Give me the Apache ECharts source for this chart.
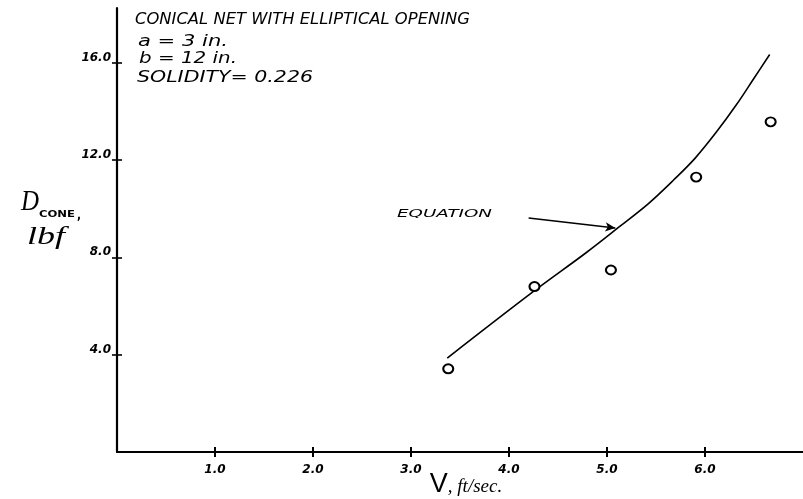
<!DOCTYPE html>
<html>
<head>
<meta charset="utf-8">
<title>Conical net drag</title>
<script src="https://cdn.jsdelivr.net/npm/echarts@6/dist/echarts.min.js"></script>
<style>
  html, body { margin: 0; padding: 0; background: #fff; }
  #chart { width: 803px; height: 499px; }
</style>
</head>
<body>
<div id="chart"></div>
<script>
// Measured drag on the cone (lbf) against towing speed (ft/sec)
const velocity = [3.38, 4.26, 5.04, 5.91, 6.67];
const dragMeasured = [3.42, 6.80, 7.48, 11.30, 13.57];

// Curve given by the drag equation, sampled along its length
const curveVelocity = [3.37, 4.25, 4.79, 5.13, 5.42, 5.68, 5.90, 6.12, 6.32, 6.49, 6.66];
const curveDrag = [3.86, 6.60, 8.20, 9.27, 10.20, 11.18, 12.08, 13.17, 14.27, 15.30, 16.34];

// Tick positions on each axis
const xTicks = [1, 2, 3, 4, 5, 6];
const yTicks = [4, 8, 12, 16];

// Arrow pointing at the equation curve: tail and head in data units
const arrowTail = [4.20, 9.62];
const arrowHead = [5.085, 9.21];

const titleLines = [
  'CONICAL NET WITH ELLIPTICAL OPENING',
  'a = 3 in.',
  'b = 12 in.',
  'SOLIDITY= 0.226'
];

const chart = echarts.init(document.getElementById('chart'), null, { renderer: 'canvas' });

// Width of a string in a given font, used to stretch lettering to its drawn width
const measureCtx = document.createElement('canvas').getContext('2d');
function textWidth(text, font) {
  measureCtx.font = font;
  return measureCtx.measureText(text).width;
}
function stretched(text, font, x, y, width, extra) {
  const w = textWidth(text, font);
  return Object.assign({
    type: 'text',
    x: x,
    y: y,
    scaleX: width / w,
    silent: true,
    style: { text: text, font: font, fill: '#000', verticalAlign: 'middle', align: 'left' }
  }, extra || {});
}

const handFont = 'italic 15px "DejaVu Sans"';
const labelFont = '"DejaVu Sans"';

const option = {
  backgroundColor: '#fff',
  animation: false,
  grid: { left: 117, right: 0, top: 8, bottom: 47, containLabel: false, outerBoundsMode: 'none' },
  xAxis: [
    {
      type: 'value',
      min: 0,
      max: 7,
      splitLine: { show: false },
      axisLine: { lineStyle: { color: '#000', width: 2.2 } },
      axisTick: { show: true, length: 5, customValues: xTicks, lineStyle: { color: '#000', width: 2 } },
      axisLabel: {
        customValues: xTicks,
        formatter: v => v.toFixed(1),
        margin: 12,
        color: '#000',
        fontFamily: labelFont,
        fontStyle: 'italic',
        fontWeight: 'bold',
        fontSize: 12
      },
      name: '{v|V}{r|, ft/sec.}',
      nameLocation: 'middle',
      nameMoveOverlap: false,
      nameGap: 19,
      nameTextStyle: {
        padding: [0, 0, 0, 12],
        rich: {
          v: { fontFamily: '"Liberation Sans"', fontSize: 27, color: '#000' },
          r: { fontFamily: '"Liberation Serif"', fontStyle: 'italic', fontSize: 19, color: '#000', padding: [4, 0, 0, 0] }
        }
      }
    },
    {
      type: 'value',
      min: 0,
      max: 7,
      position: 'bottom',
      splitLine: { show: false },
      axisLine: { show: false },
      axisTick: { show: true, inside: true, length: 5, customValues: xTicks, lineStyle: { color: '#000', width: 2 } },
      axisLabel: { show: false }
    }
  ],
  yAxis: [
    {
      type: 'value',
      min: 0,
      max: 18.25,
      splitLine: { show: false },
      axisLine: { show: true, lineStyle: { color: '#000', width: 2.2 } },
      axisTick: { show: true, length: 5, customValues: yTicks, lineStyle: { color: '#000', width: 1.6 } },
      axisLabel: {
        customValues: yTicks,
        formatter: v => v.toFixed(1),
        margin: 6,
        color: '#000',
        fontFamily: labelFont,
        fontStyle: 'italic',
        fontWeight: 'bold',
        fontSize: 12,
        verticalAlign: 'bottom',
        lineHeight: 10
      }
    },
    {
      type: 'value',
      min: 0,
      max: 18.25,
      position: 'left',
      splitLine: { show: false },
      axisLine: { show: false },
      axisTick: { show: true, inside: true, length: 5, customValues: yTicks, lineStyle: { color: '#000', width: 1.6 } },
      axisLabel: { show: false }
    }
  ],
  series: [
    {
      name: 'Equation',
      type: 'line',
      data: curveVelocity.map((v, i) => [v, curveDrag[i]]),
      smooth: 0.35,
      showSymbol: false,
      lineStyle: { color: '#000', width: 1.6 },
      z: 2,
      markLine: {
        silent: true,
        animation: false,
        symbol: ['none', 'arrow'],
        symbolSize: [7, 10],
        label: { show: false },
        lineStyle: { color: '#000', width: 1.6, type: 'solid' },
        data: [[{ coord: arrowTail }, { coord: arrowHead }]]
      }
    },
    {
      name: 'Measured',
      type: 'scatter',
      data: velocity.map((v, i) => [v, dragMeasured[i]]),
      symbol: 'circle',
      symbolSize: [10, 9],
      itemStyle: { color: '#fff', borderColor: '#000', borderWidth: 2, opacity: 1 },
      z: 3
    }
  ],
  graphic: [
    stretched(titleLines[0], handFont, 135, 20, 335),
    stretched(titleLines[1], handFont, 138, 42, 90),
    stretched(titleLines[2], handFont, 139, 59, 98),
    stretched(titleLines[3], handFont, 137, 78, 176),
    stretched('EQUATION', 'italic 11px "DejaVu Sans"', 397, 214, 95),
    stretched('D', 'italic 30px "Liberation Serif"', 21, 202, 18),
    stretched('CONE', 'bold 9px "DejaVu Sans"', 39, 215, 36),
    stretched(',', 'bold 12px "DejaVu Sans"', 77, 216, 4),
    stretched('lbf', 'italic 25px "Liberation Serif"', 27, 237, 38)
  ]
};

chart.setOption(option);
</script>
</body>
</html>
